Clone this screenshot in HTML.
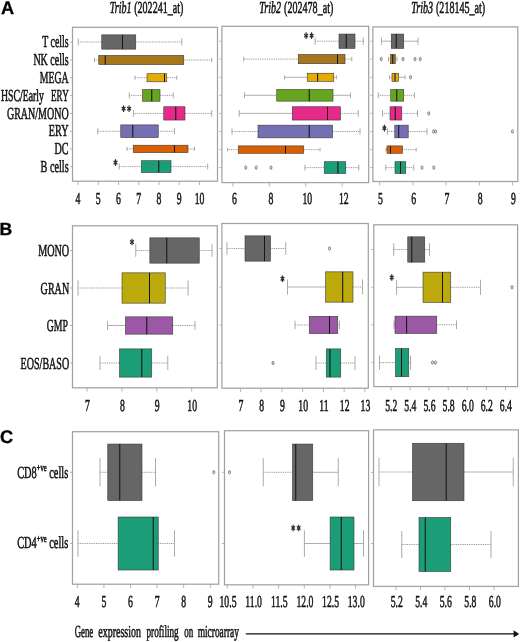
<!DOCTYPE html>
<html><head><meta charset="utf-8"><style>
html,body{margin:0;padding:0;background:#fff;}
body{width:520px;height:642px;overflow:hidden;font-family:"Liberation Serif",serif;}
svg{display:block;will-change:transform;opacity:0.999;filter:blur(0.45px);} text{text-rendering:geometricPrecision;}
</style></head><body>
<svg width="520" height="642" viewBox="0 0 520 642">
<rect width="520" height="642" fill="#fff"/>
<text x="109.7" y="13.1" font-family="Liberation Serif" font-size="16.8" font-weight="normal" text-anchor="start" fill="#111" stroke="#111" stroke-width="0.55" textLength="21.8" lengthAdjust="spacingAndGlyphs" font-style="italic">Trib1</text>
<text x="134.2" y="13.1" font-family="Liberation Serif" font-size="16.8" font-weight="normal" text-anchor="start" fill="#111" stroke="#111" stroke-width="0.55" textLength="49.2" lengthAdjust="spacingAndGlyphs">(202241_at)</text>
<text x="259.3" y="13.1" font-family="Liberation Serif" font-size="16.8" font-weight="normal" text-anchor="start" fill="#111" stroke="#111" stroke-width="0.55" textLength="21.8" lengthAdjust="spacingAndGlyphs" font-style="italic">Trib2</text>
<text x="284.1" y="13.1" font-family="Liberation Serif" font-size="16.8" font-weight="normal" text-anchor="start" fill="#111" stroke="#111" stroke-width="0.55" textLength="49.2" lengthAdjust="spacingAndGlyphs">(202478_at)</text>
<text x="411.2" y="13.1" font-family="Liberation Serif" font-size="16.8" font-weight="normal" text-anchor="start" fill="#111" stroke="#111" stroke-width="0.55" textLength="21.8" lengthAdjust="spacingAndGlyphs" font-style="italic">Trib3</text>
<text x="436.0" y="13.1" font-family="Liberation Serif" font-size="16.8" font-weight="normal" text-anchor="start" fill="#111" stroke="#111" stroke-width="0.55" textLength="49.2" lengthAdjust="spacingAndGlyphs">(218145_at)</text>
<text x="0.9" y="14" font-family="Liberation Sans" font-size="18.2" font-weight="bold" text-anchor="start" fill="#000" stroke="#000" stroke-width="0.3">A</text>
<text x="-0.4" y="235.3" font-family="Liberation Sans" font-size="17.6" font-weight="bold" text-anchor="start" fill="#000" stroke="#000" stroke-width="0.3">B</text>
<text x="0" y="443.2" font-family="Liberation Sans" font-size="18.2" font-weight="bold" text-anchor="start" fill="#000" stroke="#000" stroke-width="0.3">C</text>
<rect x="72.5" y="27.3" width="145.0" height="153.89999999999998" fill="#fff" stroke="#a2a2a2" stroke-width="1.25"/>
<rect x="221.9" y="26.3" width="146.79999999999998" height="156.29999999999998" fill="#fff" stroke="#a2a2a2" stroke-width="1.25"/>
<rect x="372.9" y="26.9" width="144.89999999999998" height="154.6" fill="#fff" stroke="#a2a2a2" stroke-width="1.25"/>
<line x1="70.0" y1="42" x2="72.5" y2="42" stroke="#a2a2a2" stroke-width="0.8"/>
<line x1="70.0" y1="60" x2="72.5" y2="60" stroke="#a2a2a2" stroke-width="0.8"/>
<line x1="70.0" y1="77.75" x2="72.5" y2="77.75" stroke="#a2a2a2" stroke-width="0.8"/>
<line x1="70.0" y1="95.4" x2="72.5" y2="95.4" stroke="#a2a2a2" stroke-width="0.8"/>
<line x1="70.0" y1="113.4" x2="72.5" y2="113.4" stroke="#a2a2a2" stroke-width="0.8"/>
<line x1="70.0" y1="131.25" x2="72.5" y2="131.25" stroke="#a2a2a2" stroke-width="0.8"/>
<line x1="70.0" y1="148.9" x2="72.5" y2="148.9" stroke="#a2a2a2" stroke-width="0.8"/>
<line x1="70.0" y1="166.6" x2="72.5" y2="166.6" stroke="#a2a2a2" stroke-width="0.8"/>
<line x1="219.4" y1="41.2" x2="221.9" y2="41.2" stroke="#a2a2a2" stroke-width="0.8"/>
<line x1="219.4" y1="59.1" x2="221.9" y2="59.1" stroke="#a2a2a2" stroke-width="0.8"/>
<line x1="219.4" y1="77.3" x2="221.9" y2="77.3" stroke="#a2a2a2" stroke-width="0.8"/>
<line x1="219.4" y1="95.3" x2="221.9" y2="95.3" stroke="#a2a2a2" stroke-width="0.8"/>
<line x1="219.4" y1="113.4" x2="221.9" y2="113.4" stroke="#a2a2a2" stroke-width="0.8"/>
<line x1="219.4" y1="131.5" x2="221.9" y2="131.5" stroke="#a2a2a2" stroke-width="0.8"/>
<line x1="219.4" y1="149.6" x2="221.9" y2="149.6" stroke="#a2a2a2" stroke-width="0.8"/>
<line x1="219.4" y1="167.6" x2="221.9" y2="167.6" stroke="#a2a2a2" stroke-width="0.8"/>
<line x1="370.4" y1="41.2" x2="372.9" y2="41.2" stroke="#a2a2a2" stroke-width="0.8"/>
<line x1="370.4" y1="59.1" x2="372.9" y2="59.1" stroke="#a2a2a2" stroke-width="0.8"/>
<line x1="370.4" y1="77.3" x2="372.9" y2="77.3" stroke="#a2a2a2" stroke-width="0.8"/>
<line x1="370.4" y1="95.3" x2="372.9" y2="95.3" stroke="#a2a2a2" stroke-width="0.8"/>
<line x1="370.4" y1="113.4" x2="372.9" y2="113.4" stroke="#a2a2a2" stroke-width="0.8"/>
<line x1="370.4" y1="131.5" x2="372.9" y2="131.5" stroke="#a2a2a2" stroke-width="0.8"/>
<line x1="370.4" y1="149.6" x2="372.9" y2="149.6" stroke="#a2a2a2" stroke-width="0.8"/>
<line x1="370.4" y1="167.6" x2="372.9" y2="167.6" stroke="#a2a2a2" stroke-width="0.8"/>
<text x="68.6" y="47.2" font-family="Liberation Serif" font-size="16.8" font-weight="normal" text-anchor="end" fill="#111" stroke="#111" stroke-width="0.55" textLength="26.4" lengthAdjust="spacingAndGlyphs">T cells</text>
<text x="68.6" y="65.2" font-family="Liberation Serif" font-size="16.8" font-weight="normal" text-anchor="end" fill="#111" stroke="#111" stroke-width="0.55" textLength="35.2" lengthAdjust="spacingAndGlyphs">NK cells</text>
<text x="68.6" y="82.95" font-family="Liberation Serif" font-size="16.8" font-weight="normal" text-anchor="end" fill="#111" stroke="#111" stroke-width="0.55" textLength="28.8" lengthAdjust="spacingAndGlyphs">MEGA</text>
<text x="68.7" y="100.60000000000001" font-family="Liberation Serif" font-size="16.8" font-weight="normal" text-anchor="end" fill="#111" stroke="#111" stroke-width="0.55" textLength="17.6" lengthAdjust="spacingAndGlyphs">ERY</text>
<text x="44.0" y="100.60000000000001" font-family="Liberation Serif" font-size="16.8" font-weight="normal" text-anchor="end" fill="#111" stroke="#111" stroke-width="0.55" textLength="43.0" lengthAdjust="spacingAndGlyphs">HSC/Early</text>
<text x="68.6" y="118.60000000000001" font-family="Liberation Serif" font-size="16.8" font-weight="normal" text-anchor="end" fill="#111" stroke="#111" stroke-width="0.55" textLength="61.6" lengthAdjust="spacingAndGlyphs">GRAN/MONO</text>
<text x="68.6" y="135.64999999999998" font-family="Liberation Serif" font-size="16.8" font-weight="normal" text-anchor="end" fill="#111" stroke="#111" stroke-width="0.55" textLength="19.8" lengthAdjust="spacingAndGlyphs">ERY</text>
<text x="68.6" y="154.1" font-family="Liberation Serif" font-size="16.8" font-weight="normal" text-anchor="end" fill="#111" stroke="#111" stroke-width="0.55" textLength="14" lengthAdjust="spacingAndGlyphs">DC</text>
<text x="68.6" y="171.79999999999998" font-family="Liberation Serif" font-size="16.8" font-weight="normal" text-anchor="end" fill="#111" stroke="#111" stroke-width="0.55" textLength="28" lengthAdjust="spacingAndGlyphs">B cells</text>
<line x1="78.25" y1="42" x2="101.75" y2="42" stroke="#808080" stroke-width="0.9" stroke-dasharray="0.9 0.9"/>
<line x1="78.25" y1="38.425" x2="78.25" y2="45.575" stroke="#a0a0a0" stroke-width="0.9"/>
<line x1="135.75" y1="42" x2="181.75" y2="42" stroke="#808080" stroke-width="0.9" stroke-dasharray="0.9 0.9"/>
<line x1="181.75" y1="38.425" x2="181.75" y2="45.575" stroke="#a0a0a0" stroke-width="0.9"/>
<rect x="101.75" y="34.85" width="34.0" height="14.3" fill="#666666" stroke="#3a3a3a" stroke-width="0.6"/>
<line x1="122.5" y1="34.85" x2="122.5" y2="49.150000000000006" stroke="#151515" stroke-width="1.05"/>
<line x1="94.5" y1="60" x2="98.75" y2="60" stroke="#808080" stroke-width="0.9" stroke-dasharray="0.9 0.9"/>
<line x1="94.5" y1="57.7" x2="94.5" y2="62.3" stroke="#a0a0a0" stroke-width="0.9"/>
<line x1="183.75" y1="60" x2="211.7" y2="60" stroke="#808080" stroke-width="0.9" stroke-dasharray="0.9 0.9"/>
<line x1="211.7" y1="57.7" x2="211.7" y2="62.3" stroke="#a0a0a0" stroke-width="0.9"/>
<rect x="98.75" y="55.4" width="85.0" height="9.2" fill="#A6761D" stroke="#3a3a3a" stroke-width="0.6"/>
<line x1="105.25" y1="55.4" x2="105.25" y2="64.6" stroke="#151515" stroke-width="1.05"/>
<line x1="135" y1="77.75" x2="147" y2="77.75" stroke="#808080" stroke-width="0.9" stroke-dasharray="0.9 0.9"/>
<line x1="135" y1="75.725" x2="135" y2="79.775" stroke="#a0a0a0" stroke-width="0.9"/>
<line x1="166.75" y1="77.75" x2="176.75" y2="77.75" stroke="#808080" stroke-width="0.9" stroke-dasharray="0.9 0.9"/>
<line x1="176.75" y1="75.725" x2="176.75" y2="79.775" stroke="#a0a0a0" stroke-width="0.9"/>
<rect x="147" y="73.7" width="19.75" height="8.1" fill="#E6AB02" stroke="#3a3a3a" stroke-width="0.6"/>
<line x1="164.5" y1="73.7" x2="164.5" y2="81.8" stroke="#151515" stroke-width="1.05"/>
<line x1="129.25" y1="95.4" x2="142.5" y2="95.4" stroke="#808080" stroke-width="0.9" stroke-dasharray="0.9 0.9"/>
<line x1="129.25" y1="92.47500000000001" x2="129.25" y2="98.325" stroke="#a0a0a0" stroke-width="0.9"/>
<line x1="160" y1="95.4" x2="173.25" y2="95.4" stroke="#808080" stroke-width="0.9" stroke-dasharray="0.9 0.9"/>
<line x1="173.25" y1="92.47500000000001" x2="173.25" y2="98.325" stroke="#a0a0a0" stroke-width="0.9"/>
<rect x="142.5" y="89.55000000000001" width="17.5" height="11.7" fill="#66A61E" stroke="#3a3a3a" stroke-width="0.6"/>
<line x1="151.75" y1="89.55000000000001" x2="151.75" y2="101.25000000000001" stroke="#151515" stroke-width="1.05"/>
<line x1="133.5" y1="113.4" x2="163.75" y2="113.4" stroke="#808080" stroke-width="0.9" stroke-dasharray="0.9 0.9"/>
<line x1="133.5" y1="110.075" x2="133.5" y2="116.72500000000001" stroke="#a0a0a0" stroke-width="0.9"/>
<line x1="185" y1="113.4" x2="211.7" y2="113.4" stroke="#808080" stroke-width="0.9" stroke-dasharray="0.9 0.9"/>
<line x1="211.7" y1="110.075" x2="211.7" y2="116.72500000000001" stroke="#a0a0a0" stroke-width="0.9"/>
<rect x="163.75" y="106.75" width="21.25" height="13.3" fill="#E7298A" stroke="#3a3a3a" stroke-width="0.6"/>
<line x1="175.75" y1="106.75" x2="175.75" y2="120.05" stroke="#151515" stroke-width="1.05"/>
<line x1="97.75" y1="131.25" x2="120.75" y2="131.25" stroke="#808080" stroke-width="0.9" stroke-dasharray="0.9 0.9"/>
<line x1="97.75" y1="128.075" x2="97.75" y2="134.425" stroke="#a0a0a0" stroke-width="0.9"/>
<line x1="158.25" y1="131.25" x2="174.5" y2="131.25" stroke="#808080" stroke-width="0.9" stroke-dasharray="0.9 0.9"/>
<line x1="174.5" y1="128.075" x2="174.5" y2="134.425" stroke="#a0a0a0" stroke-width="0.9"/>
<rect x="120.75" y="124.9" width="37.5" height="12.7" fill="#7570B3" stroke="#3a3a3a" stroke-width="0.6"/>
<line x1="132.75" y1="124.9" x2="132.75" y2="137.6" stroke="#151515" stroke-width="1.05"/>
<line x1="127" y1="148.9" x2="133.25" y2="148.9" stroke="#808080" stroke-width="0.9" stroke-dasharray="0.9 0.9"/>
<line x1="127" y1="147.05" x2="127" y2="150.75" stroke="#a0a0a0" stroke-width="0.9"/>
<line x1="188" y1="148.9" x2="194.5" y2="148.9" stroke="#808080" stroke-width="0.9" stroke-dasharray="0.9 0.9"/>
<line x1="194.5" y1="147.05" x2="194.5" y2="150.75" stroke="#a0a0a0" stroke-width="0.9"/>
<rect x="133.25" y="145.20000000000002" width="54.75" height="7.4" fill="#D95F02" stroke="#3a3a3a" stroke-width="0.6"/>
<line x1="174.5" y1="145.20000000000002" x2="174.5" y2="152.60000000000002" stroke="#151515" stroke-width="1.05"/>
<line x1="119.25" y1="166.6" x2="141.25" y2="166.6" stroke="#808080" stroke-width="0.9" stroke-dasharray="0.9 0.9"/>
<line x1="119.25" y1="163.65" x2="119.25" y2="169.54999999999998" stroke="#a0a0a0" stroke-width="0.9"/>
<line x1="171" y1="166.6" x2="207.7" y2="166.6" stroke="#808080" stroke-width="0.9" stroke-dasharray="0.9 0.9"/>
<line x1="207.7" y1="163.65" x2="207.7" y2="169.54999999999998" stroke="#a0a0a0" stroke-width="0.9"/>
<rect x="141.25" y="160.7" width="29.75" height="11.8" fill="#1B9E77" stroke="#3a3a3a" stroke-width="0.6"/>
<line x1="158.75" y1="160.7" x2="158.75" y2="172.5" stroke="#151515" stroke-width="1.05"/>
<path d="M123.6 105.4 V112.0" stroke="#2e2e2e" stroke-width="1.15" fill="none"/>
<path d="M121.75 107.05 L125.44999999999999 110.35000000000001 M121.75 110.35000000000001 L125.44999999999999 107.05" stroke="#2e2e2e" stroke-width="1.3" fill="none"/>
<path d="M129.1 105.4 V112.0" stroke="#2e2e2e" stroke-width="1.15" fill="none"/>
<path d="M127.25 107.05 L130.95 110.35000000000001 M127.25 110.35000000000001 L130.95 107.05" stroke="#2e2e2e" stroke-width="1.3" fill="none"/>
<path d="M115.5 159.2 V165.8" stroke="#2e2e2e" stroke-width="1.15" fill="none"/>
<path d="M113.65 160.85 L117.35 164.15 M113.65 164.15 L117.35 160.85" stroke="#2e2e2e" stroke-width="1.3" fill="none"/>
<line x1="315.1" y1="41.2" x2="339" y2="41.2" stroke="#808080" stroke-width="0.9" stroke-dasharray="0.9 0.9"/>
<line x1="315.1" y1="37.625" x2="315.1" y2="44.775000000000006" stroke="#a0a0a0" stroke-width="0.9"/>
<line x1="355" y1="41.2" x2="363.25" y2="41.2" stroke="#808080" stroke-width="0.9" stroke-dasharray="0.9 0.9"/>
<line x1="363.25" y1="37.625" x2="363.25" y2="44.775000000000006" stroke="#a0a0a0" stroke-width="0.9"/>
<rect x="339" y="34.050000000000004" width="16" height="14.3" fill="#666666" stroke="#3a3a3a" stroke-width="0.6"/>
<line x1="346.25" y1="34.050000000000004" x2="346.25" y2="48.35000000000001" stroke="#151515" stroke-width="1.05"/>
<line x1="243.75" y1="59.1" x2="298.25" y2="59.1" stroke="#808080" stroke-width="0.9" stroke-dasharray="0.9 0.9"/>
<line x1="243.75" y1="56.800000000000004" x2="243.75" y2="61.4" stroke="#a0a0a0" stroke-width="0.9"/>
<line x1="345" y1="59.1" x2="351.75" y2="59.1" stroke="#808080" stroke-width="0.9" stroke-dasharray="0.9 0.9"/>
<line x1="351.75" y1="56.800000000000004" x2="351.75" y2="61.4" stroke="#a0a0a0" stroke-width="0.9"/>
<rect x="298.25" y="54.5" width="46.75" height="9.2" fill="#A6761D" stroke="#3a3a3a" stroke-width="0.6"/>
<line x1="337.5" y1="54.5" x2="337.5" y2="63.7" stroke="#151515" stroke-width="1.05"/>
<line x1="284.5" y1="77.3" x2="307.25" y2="77.3" stroke="#8e8e8e" stroke-width="0.7"/>
<line x1="284.5" y1="75.27499999999999" x2="284.5" y2="79.325" stroke="#a0a0a0" stroke-width="0.9"/>
<line x1="333.75" y1="77.3" x2="336.4" y2="77.3" stroke="#808080" stroke-width="0.9" stroke-dasharray="0.9 0.9"/>
<line x1="336.4" y1="75.27499999999999" x2="336.4" y2="79.325" stroke="#a0a0a0" stroke-width="0.9"/>
<rect x="307.25" y="73.25" width="26.5" height="8.1" fill="#E6AB02" stroke="#3a3a3a" stroke-width="0.6"/>
<line x1="317.6" y1="73.25" x2="317.6" y2="81.35" stroke="#151515" stroke-width="1.05"/>
<line x1="244.5" y1="95.3" x2="276.75" y2="95.3" stroke="#8e8e8e" stroke-width="0.7"/>
<line x1="244.5" y1="92.375" x2="244.5" y2="98.225" stroke="#a0a0a0" stroke-width="0.9"/>
<line x1="333" y1="95.3" x2="350.5" y2="95.3" stroke="#8e8e8e" stroke-width="0.7"/>
<line x1="350.5" y1="92.375" x2="350.5" y2="98.225" stroke="#a0a0a0" stroke-width="0.9"/>
<rect x="276.75" y="89.45" width="56.25" height="11.7" fill="#66A61E" stroke="#3a3a3a" stroke-width="0.6"/>
<line x1="309.25" y1="89.45" x2="309.25" y2="101.15" stroke="#151515" stroke-width="1.05"/>
<line x1="239.25" y1="113.4" x2="292.25" y2="113.4" stroke="#8e8e8e" stroke-width="0.7"/>
<line x1="239.25" y1="110.075" x2="239.25" y2="116.72500000000001" stroke="#a0a0a0" stroke-width="0.9"/>
<line x1="340.5" y1="113.4" x2="358.25" y2="113.4" stroke="#808080" stroke-width="0.9" stroke-dasharray="0.9 0.9"/>
<line x1="358.25" y1="110.075" x2="358.25" y2="116.72500000000001" stroke="#a0a0a0" stroke-width="0.9"/>
<rect x="292.25" y="106.75" width="48.25" height="13.3" fill="#E7298A" stroke="#3a3a3a" stroke-width="0.6"/>
<line x1="327.5" y1="106.75" x2="327.5" y2="120.05" stroke="#151515" stroke-width="1.05"/>
<line x1="232" y1="131.5" x2="258" y2="131.5" stroke="#808080" stroke-width="0.9" stroke-dasharray="0.9 0.9"/>
<line x1="232" y1="128.325" x2="232" y2="134.675" stroke="#a0a0a0" stroke-width="0.9"/>
<line x1="332.6" y1="131.5" x2="360" y2="131.5" stroke="#808080" stroke-width="0.9" stroke-dasharray="0.9 0.9"/>
<line x1="360" y1="128.325" x2="360" y2="134.675" stroke="#a0a0a0" stroke-width="0.9"/>
<rect x="258" y="125.15" width="74.60000000000002" height="12.7" fill="#7570B3" stroke="#3a3a3a" stroke-width="0.6"/>
<line x1="309.25" y1="125.15" x2="309.25" y2="137.85" stroke="#151515" stroke-width="1.05"/>
<line x1="227.5" y1="149.6" x2="238.25" y2="149.6" stroke="#808080" stroke-width="0.9" stroke-dasharray="0.9 0.9"/>
<line x1="227.5" y1="147.75" x2="227.5" y2="151.45" stroke="#a0a0a0" stroke-width="0.9"/>
<line x1="303.75" y1="149.6" x2="320" y2="149.6" stroke="#808080" stroke-width="0.9" stroke-dasharray="0.9 0.9"/>
<line x1="320" y1="147.75" x2="320" y2="151.45" stroke="#a0a0a0" stroke-width="0.9"/>
<rect x="238.25" y="145.9" width="65.5" height="7.4" fill="#D95F02" stroke="#3a3a3a" stroke-width="0.6"/>
<line x1="285.5" y1="145.9" x2="285.5" y2="153.3" stroke="#151515" stroke-width="1.05"/>
<line x1="305" y1="167.6" x2="324.25" y2="167.6" stroke="#808080" stroke-width="0.9" stroke-dasharray="0.9 0.9"/>
<line x1="305" y1="164.65" x2="305" y2="170.54999999999998" stroke="#a0a0a0" stroke-width="0.9"/>
<line x1="345.75" y1="167.6" x2="358.75" y2="167.6" stroke="#808080" stroke-width="0.9" stroke-dasharray="0.9 0.9"/>
<line x1="358.75" y1="164.65" x2="358.75" y2="170.54999999999998" stroke="#a0a0a0" stroke-width="0.9"/>
<rect x="324.25" y="161.7" width="21.5" height="11.8" fill="#1B9E77" stroke="#3a3a3a" stroke-width="0.6"/>
<line x1="337.9" y1="161.7" x2="337.9" y2="173.5" stroke="#151515" stroke-width="1.05"/>
<ellipse cx="245.75" cy="167.6" rx="1.0" ry="1.7" fill="#e8e8e8" stroke="#666" stroke-width="0.8"/>
<ellipse cx="256.25" cy="167.6" rx="1.0" ry="1.7" fill="#e8e8e8" stroke="#666" stroke-width="0.8"/>
<ellipse cx="271" cy="167.6" rx="1.0" ry="1.7" fill="#e8e8e8" stroke="#666" stroke-width="0.8"/>
<path d="M306.1 32.300000000000004 V38.9" stroke="#2e2e2e" stroke-width="1.15" fill="none"/>
<path d="M304.25 33.95 L307.95000000000005 37.25 M304.25 37.25 L307.95000000000005 33.95" stroke="#2e2e2e" stroke-width="1.3" fill="none"/>
<path d="M311.6 32.300000000000004 V38.9" stroke="#2e2e2e" stroke-width="1.15" fill="none"/>
<path d="M309.75 33.95 L313.45000000000005 37.25 M309.75 37.25 L313.45000000000005 33.95" stroke="#2e2e2e" stroke-width="1.3" fill="none"/>
<line x1="381.5" y1="41.2" x2="391.25" y2="41.2" stroke="#8e8e8e" stroke-width="0.7"/>
<line x1="381.5" y1="37.625" x2="381.5" y2="44.775000000000006" stroke="#a0a0a0" stroke-width="0.9"/>
<line x1="403.75" y1="41.2" x2="418" y2="41.2" stroke="#8e8e8e" stroke-width="0.7"/>
<line x1="418" y1="37.625" x2="418" y2="44.775000000000006" stroke="#a0a0a0" stroke-width="0.9"/>
<rect x="391.25" y="34.050000000000004" width="12.5" height="14.3" fill="#666666" stroke="#3a3a3a" stroke-width="0.6"/>
<line x1="396.25" y1="34.050000000000004" x2="396.25" y2="48.35000000000001" stroke="#151515" stroke-width="1.05"/>
<line x1="388.5" y1="59.1" x2="390.5" y2="59.1" stroke="#808080" stroke-width="0.9" stroke-dasharray="0.9 0.9"/>
<line x1="388.5" y1="56.800000000000004" x2="388.5" y2="61.4" stroke="#a0a0a0" stroke-width="0.9"/>
<line x1="395.25" y1="59.1" x2="397" y2="59.1" stroke="#808080" stroke-width="0.9" stroke-dasharray="0.9 0.9"/>
<line x1="397" y1="56.800000000000004" x2="397" y2="61.4" stroke="#a0a0a0" stroke-width="0.9"/>
<rect x="390.5" y="54.5" width="4.75" height="9.2" fill="#A6761D" stroke="#3a3a3a" stroke-width="0.6"/>
<line x1="392.75" y1="54.5" x2="392.75" y2="63.7" stroke="#151515" stroke-width="1.05"/>
<ellipse cx="381.25" cy="59.1" rx="1.0" ry="1.7" fill="#e8e8e8" stroke="#666" stroke-width="0.8"/>
<ellipse cx="403" cy="59.1" rx="1.0" ry="1.7" fill="#e8e8e8" stroke="#666" stroke-width="0.8"/>
<ellipse cx="415" cy="59.1" rx="1.0" ry="1.7" fill="#e8e8e8" stroke="#666" stroke-width="0.8"/>
<ellipse cx="420.25" cy="59.1" rx="1.0" ry="1.7" fill="#e8e8e8" stroke="#666" stroke-width="0.8"/>
<line x1="389.5" y1="77.3" x2="392" y2="77.3" stroke="#808080" stroke-width="0.9" stroke-dasharray="0.9 0.9"/>
<line x1="389.5" y1="75.27499999999999" x2="389.5" y2="79.325" stroke="#a0a0a0" stroke-width="0.9"/>
<line x1="398.5" y1="77.3" x2="405" y2="77.3" stroke="#8e8e8e" stroke-width="0.7"/>
<line x1="405" y1="75.27499999999999" x2="405" y2="79.325" stroke="#a0a0a0" stroke-width="0.9"/>
<rect x="392" y="73.25" width="6.5" height="8.1" fill="#E6AB02" stroke="#3a3a3a" stroke-width="0.6"/>
<line x1="395" y1="73.25" x2="395" y2="81.35" stroke="#151515" stroke-width="1.05"/>
<ellipse cx="410.5" cy="77.3" rx="1.0" ry="1.7" fill="#e8e8e8" stroke="#666" stroke-width="0.8"/>
<line x1="378.25" y1="95.3" x2="390.75" y2="95.3" stroke="#808080" stroke-width="0.9" stroke-dasharray="0.9 0.9"/>
<line x1="378.25" y1="92.375" x2="378.25" y2="98.225" stroke="#a0a0a0" stroke-width="0.9"/>
<line x1="403.75" y1="95.3" x2="414.5" y2="95.3" stroke="#808080" stroke-width="0.9" stroke-dasharray="0.9 0.9"/>
<line x1="414.5" y1="92.375" x2="414.5" y2="98.225" stroke="#a0a0a0" stroke-width="0.9"/>
<rect x="390.75" y="89.45" width="13.0" height="11.7" fill="#66A61E" stroke="#3a3a3a" stroke-width="0.6"/>
<line x1="396.75" y1="89.45" x2="396.75" y2="101.15" stroke="#151515" stroke-width="1.05"/>
<line x1="382.5" y1="113.4" x2="390" y2="113.4" stroke="#808080" stroke-width="0.9" stroke-dasharray="0.9 0.9"/>
<line x1="382.5" y1="110.075" x2="382.5" y2="116.72500000000001" stroke="#a0a0a0" stroke-width="0.9"/>
<line x1="401.75" y1="113.4" x2="417.5" y2="113.4" stroke="#808080" stroke-width="0.9" stroke-dasharray="0.9 0.9"/>
<line x1="417.5" y1="110.075" x2="417.5" y2="116.72500000000001" stroke="#a0a0a0" stroke-width="0.9"/>
<rect x="390" y="106.75" width="11.75" height="13.3" fill="#E7298A" stroke="#3a3a3a" stroke-width="0.6"/>
<line x1="395.25" y1="106.75" x2="395.25" y2="120.05" stroke="#151515" stroke-width="1.05"/>
<ellipse cx="428.75" cy="113.4" rx="1.0" ry="1.7" fill="#e8e8e8" stroke="#666" stroke-width="0.8"/>
<line x1="387.5" y1="131.5" x2="394.8" y2="131.5" stroke="#808080" stroke-width="0.9" stroke-dasharray="0.9 0.9"/>
<line x1="387.5" y1="128.325" x2="387.5" y2="134.675" stroke="#a0a0a0" stroke-width="0.9"/>
<line x1="408.2" y1="131.5" x2="427" y2="131.5" stroke="#808080" stroke-width="0.9" stroke-dasharray="0.9 0.9"/>
<line x1="427" y1="128.325" x2="427" y2="134.675" stroke="#a0a0a0" stroke-width="0.9"/>
<rect x="394.8" y="125.15" width="13.399999999999977" height="12.7" fill="#7570B3" stroke="#3a3a3a" stroke-width="0.6"/>
<line x1="398.7" y1="125.15" x2="398.7" y2="137.85" stroke="#151515" stroke-width="1.05"/>
<ellipse cx="433.6" cy="131.5" rx="1.0" ry="1.7" fill="#e8e8e8" stroke="#666" stroke-width="0.8"/>
<ellipse cx="435.6" cy="131.5" rx="1.0" ry="1.7" fill="#e8e8e8" stroke="#666" stroke-width="0.8"/>
<ellipse cx="512.5" cy="131.5" rx="1.0" ry="1.7" fill="#e8e8e8" stroke="#666" stroke-width="0.8"/>
<line x1="386" y1="149.6" x2="387" y2="149.6" stroke="#808080" stroke-width="0.9" stroke-dasharray="0.9 0.9"/>
<line x1="386" y1="147.75" x2="386" y2="151.45" stroke="#a0a0a0" stroke-width="0.9"/>
<line x1="402.5" y1="149.6" x2="416.25" y2="149.6" stroke="#808080" stroke-width="0.9" stroke-dasharray="0.9 0.9"/>
<line x1="416.25" y1="147.75" x2="416.25" y2="151.45" stroke="#a0a0a0" stroke-width="0.9"/>
<rect x="387" y="145.9" width="15.5" height="7.4" fill="#D95F02" stroke="#3a3a3a" stroke-width="0.6"/>
<line x1="390.5" y1="145.9" x2="390.5" y2="153.3" stroke="#151515" stroke-width="1.05"/>
<line x1="385.75" y1="167.6" x2="395" y2="167.6" stroke="#808080" stroke-width="0.9" stroke-dasharray="0.9 0.9"/>
<line x1="385.75" y1="164.65" x2="385.75" y2="170.54999999999998" stroke="#a0a0a0" stroke-width="0.9"/>
<line x1="405.75" y1="167.6" x2="413.75" y2="167.6" stroke="#808080" stroke-width="0.9" stroke-dasharray="0.9 0.9"/>
<line x1="413.75" y1="164.65" x2="413.75" y2="170.54999999999998" stroke="#a0a0a0" stroke-width="0.9"/>
<rect x="395" y="161.7" width="10.75" height="11.8" fill="#1B9E77" stroke="#3a3a3a" stroke-width="0.6"/>
<line x1="400.5" y1="161.7" x2="400.5" y2="173.5" stroke="#151515" stroke-width="1.05"/>
<ellipse cx="422" cy="167.6" rx="1.0" ry="1.7" fill="#e8e8e8" stroke="#666" stroke-width="0.8"/>
<ellipse cx="433.75" cy="167.6" rx="1.0" ry="1.7" fill="#e8e8e8" stroke="#666" stroke-width="0.8"/>
<path d="M384.4 124.8 V131.4" stroke="#2e2e2e" stroke-width="1.15" fill="none"/>
<path d="M382.54999999999995 126.44999999999999 L386.25 129.75 M382.54999999999995 129.75 L386.25 126.44999999999999" stroke="#2e2e2e" stroke-width="1.3" fill="none"/>
<line x1="78.0" y1="181.2" x2="78.0" y2="185.0" stroke="#a2a2a2" stroke-width="0.8"/>
<line x1="98.25" y1="181.2" x2="98.25" y2="185.0" stroke="#a2a2a2" stroke-width="0.8"/>
<line x1="118.5" y1="181.2" x2="118.5" y2="185.0" stroke="#a2a2a2" stroke-width="0.8"/>
<line x1="138.75" y1="181.2" x2="138.75" y2="185.0" stroke="#a2a2a2" stroke-width="0.8"/>
<line x1="159.0" y1="181.2" x2="159.0" y2="185.0" stroke="#a2a2a2" stroke-width="0.8"/>
<line x1="179.25" y1="181.2" x2="179.25" y2="185.0" stroke="#a2a2a2" stroke-width="0.8"/>
<line x1="199.5" y1="181.2" x2="199.5" y2="185.0" stroke="#a2a2a2" stroke-width="0.8"/>
<text x="78.0" y="203.75" font-family="Liberation Serif" font-size="16.8" font-weight="normal" text-anchor="middle" fill="#111" stroke="#111" stroke-width="0.55" textLength="4.86" lengthAdjust="spacingAndGlyphs">4</text>
<text x="98.25" y="203.75" font-family="Liberation Serif" font-size="16.8" font-weight="normal" text-anchor="middle" fill="#111" stroke="#111" stroke-width="0.55" textLength="4.86" lengthAdjust="spacingAndGlyphs">5</text>
<text x="118.5" y="203.75" font-family="Liberation Serif" font-size="16.8" font-weight="normal" text-anchor="middle" fill="#111" stroke="#111" stroke-width="0.55" textLength="4.86" lengthAdjust="spacingAndGlyphs">6</text>
<text x="138.75" y="203.75" font-family="Liberation Serif" font-size="16.8" font-weight="normal" text-anchor="middle" fill="#111" stroke="#111" stroke-width="0.55" textLength="4.86" lengthAdjust="spacingAndGlyphs">7</text>
<text x="159.0" y="203.75" font-family="Liberation Serif" font-size="16.8" font-weight="normal" text-anchor="middle" fill="#111" stroke="#111" stroke-width="0.55" textLength="4.86" lengthAdjust="spacingAndGlyphs">8</text>
<text x="179.25" y="203.75" font-family="Liberation Serif" font-size="16.8" font-weight="normal" text-anchor="middle" fill="#111" stroke="#111" stroke-width="0.55" textLength="4.86" lengthAdjust="spacingAndGlyphs">9</text>
<text x="199.5" y="203.75" font-family="Liberation Serif" font-size="16.8" font-weight="normal" text-anchor="middle" fill="#111" stroke="#111" stroke-width="0.55" textLength="9.71" lengthAdjust="spacingAndGlyphs">10</text>
<line x1="232.8" y1="182.6" x2="232.8" y2="186.4" stroke="#a2a2a2" stroke-width="0.8"/>
<line x1="269.25" y1="182.6" x2="269.25" y2="186.4" stroke="#a2a2a2" stroke-width="0.8"/>
<line x1="305.70000000000005" y1="182.6" x2="305.70000000000005" y2="186.4" stroke="#a2a2a2" stroke-width="0.8"/>
<line x1="342.15000000000003" y1="182.6" x2="342.15000000000003" y2="186.4" stroke="#a2a2a2" stroke-width="0.8"/>
<text x="234.4" y="203.75" font-family="Liberation Serif" font-size="16.8" font-weight="normal" text-anchor="middle" fill="#111" stroke="#111" stroke-width="0.55" textLength="4.86" lengthAdjust="spacingAndGlyphs">6</text>
<text x="270.85" y="203.75" font-family="Liberation Serif" font-size="16.8" font-weight="normal" text-anchor="middle" fill="#111" stroke="#111" stroke-width="0.55" textLength="4.86" lengthAdjust="spacingAndGlyphs">8</text>
<text x="307.3" y="203.75" font-family="Liberation Serif" font-size="16.8" font-weight="normal" text-anchor="middle" fill="#111" stroke="#111" stroke-width="0.55" textLength="9.71" lengthAdjust="spacingAndGlyphs">10</text>
<text x="343.75" y="203.75" font-family="Liberation Serif" font-size="16.8" font-weight="normal" text-anchor="middle" fill="#111" stroke="#111" stroke-width="0.55" textLength="9.71" lengthAdjust="spacingAndGlyphs">12</text>
<line x1="379.6" y1="181.5" x2="379.6" y2="185.3" stroke="#a2a2a2" stroke-width="0.8"/>
<line x1="412.85" y1="181.5" x2="412.85" y2="185.3" stroke="#a2a2a2" stroke-width="0.8"/>
<line x1="446.1" y1="181.5" x2="446.1" y2="185.3" stroke="#a2a2a2" stroke-width="0.8"/>
<line x1="479.35" y1="181.5" x2="479.35" y2="185.3" stroke="#a2a2a2" stroke-width="0.8"/>
<line x1="512.6" y1="181.5" x2="512.6" y2="185.3" stroke="#a2a2a2" stroke-width="0.8"/>
<text x="380.5" y="203.75" font-family="Liberation Serif" font-size="16.8" font-weight="normal" text-anchor="middle" fill="#111" stroke="#111" stroke-width="0.55" textLength="4.86" lengthAdjust="spacingAndGlyphs">5</text>
<text x="413.75" y="203.75" font-family="Liberation Serif" font-size="16.8" font-weight="normal" text-anchor="middle" fill="#111" stroke="#111" stroke-width="0.55" textLength="4.86" lengthAdjust="spacingAndGlyphs">6</text>
<text x="447.0" y="203.75" font-family="Liberation Serif" font-size="16.8" font-weight="normal" text-anchor="middle" fill="#111" stroke="#111" stroke-width="0.55" textLength="4.86" lengthAdjust="spacingAndGlyphs">7</text>
<text x="480.25" y="203.75" font-family="Liberation Serif" font-size="16.8" font-weight="normal" text-anchor="middle" fill="#111" stroke="#111" stroke-width="0.55" textLength="4.86" lengthAdjust="spacingAndGlyphs">8</text>
<text x="513.5" y="203.75" font-family="Liberation Serif" font-size="16.8" font-weight="normal" text-anchor="middle" fill="#111" stroke="#111" stroke-width="0.55" textLength="4.86" lengthAdjust="spacingAndGlyphs">9</text>
<rect x="72.5" y="225.8" width="144.8" height="162.0" fill="#fff" stroke="#a2a2a2" stroke-width="1.25"/>
<rect x="221.9" y="223.5" width="146.4" height="164.7" fill="#fff" stroke="#a2a2a2" stroke-width="1.25"/>
<rect x="373.8" y="224.8" width="143.8" height="161.8" fill="#fff" stroke="#a2a2a2" stroke-width="1.25"/>
<line x1="70.0" y1="250.5" x2="72.5" y2="250.5" stroke="#a2a2a2" stroke-width="0.8"/>
<line x1="70.0" y1="288" x2="72.5" y2="288" stroke="#a2a2a2" stroke-width="0.8"/>
<line x1="70.0" y1="325.5" x2="72.5" y2="325.5" stroke="#a2a2a2" stroke-width="0.8"/>
<line x1="70.0" y1="363" x2="72.5" y2="363" stroke="#a2a2a2" stroke-width="0.8"/>
<line x1="219.4" y1="248.5" x2="221.9" y2="248.5" stroke="#a2a2a2" stroke-width="0.8"/>
<line x1="219.4" y1="287" x2="221.9" y2="287" stroke="#a2a2a2" stroke-width="0.8"/>
<line x1="219.4" y1="325" x2="221.9" y2="325" stroke="#a2a2a2" stroke-width="0.8"/>
<line x1="219.4" y1="363" x2="221.9" y2="363" stroke="#a2a2a2" stroke-width="0.8"/>
<line x1="371.3" y1="249.5" x2="373.8" y2="249.5" stroke="#a2a2a2" stroke-width="0.8"/>
<line x1="371.3" y1="287.3" x2="373.8" y2="287.3" stroke="#a2a2a2" stroke-width="0.8"/>
<line x1="371.3" y1="324.8" x2="373.8" y2="324.8" stroke="#a2a2a2" stroke-width="0.8"/>
<line x1="371.3" y1="362.6" x2="373.8" y2="362.6" stroke="#a2a2a2" stroke-width="0.8"/>
<text x="69.2" y="256.4" font-family="Liberation Serif" font-size="16.8" font-weight="normal" text-anchor="end" fill="#111" stroke="#111" stroke-width="0.55" textLength="31" lengthAdjust="spacingAndGlyphs">MONO</text>
<text x="69.2" y="293.9" font-family="Liberation Serif" font-size="16.8" font-weight="normal" text-anchor="end" fill="#111" stroke="#111" stroke-width="0.55" textLength="28.6" lengthAdjust="spacingAndGlyphs">GRAN</text>
<text x="67.9" y="331.4" font-family="Liberation Serif" font-size="16.8" font-weight="normal" text-anchor="end" fill="#111" stroke="#111" stroke-width="0.55" textLength="21.2" lengthAdjust="spacingAndGlyphs">GMP</text>
<text x="69.2" y="368.9" font-family="Liberation Serif" font-size="16.8" font-weight="normal" text-anchor="end" fill="#111" stroke="#111" stroke-width="0.55" textLength="48.6" lengthAdjust="spacingAndGlyphs">EOS/BASO</text>
<line x1="135.75" y1="250.5" x2="149.85" y2="250.5" stroke="#808080" stroke-width="0.9" stroke-dasharray="0.9 0.9"/>
<line x1="135.75" y1="244.175" x2="135.75" y2="256.825" stroke="#a0a0a0" stroke-width="0.9"/>
<line x1="199.25" y1="250.5" x2="212" y2="250.5" stroke="#808080" stroke-width="0.9" stroke-dasharray="0.9 0.9"/>
<line x1="212" y1="244.175" x2="212" y2="256.825" stroke="#a0a0a0" stroke-width="0.9"/>
<rect x="149.85" y="237.85" width="49.400000000000006" height="25.3" fill="#666666" stroke="#3a3a3a" stroke-width="0.6"/>
<line x1="166.75" y1="237.85" x2="166.75" y2="263.15" stroke="#151515" stroke-width="1.05"/>
<line x1="78" y1="288" x2="122" y2="288" stroke="#808080" stroke-width="0.9" stroke-dasharray="0.9 0.9"/>
<line x1="78" y1="280.425" x2="78" y2="295.575" stroke="#a0a0a0" stroke-width="0.9"/>
<line x1="165.25" y1="288" x2="188.1" y2="288" stroke="#808080" stroke-width="0.9" stroke-dasharray="0.9 0.9"/>
<line x1="188.1" y1="280.425" x2="188.1" y2="295.575" stroke="#a0a0a0" stroke-width="0.9"/>
<rect x="122" y="272.85" width="43.25" height="30.3" fill="#BCA90B" stroke="#3a3a3a" stroke-width="0.6"/>
<line x1="149.5" y1="272.85" x2="149.5" y2="303.15000000000003" stroke="#151515" stroke-width="1.05"/>
<line x1="107.5" y1="325.5" x2="125.5" y2="325.5" stroke="#8e8e8e" stroke-width="0.7"/>
<line x1="107.5" y1="321.175" x2="107.5" y2="329.825" stroke="#a0a0a0" stroke-width="0.9"/>
<line x1="172.75" y1="325.5" x2="195" y2="325.5" stroke="#808080" stroke-width="0.9" stroke-dasharray="0.9 0.9"/>
<line x1="195" y1="321.175" x2="195" y2="329.825" stroke="#a0a0a0" stroke-width="0.9"/>
<rect x="125.5" y="316.85" width="47.25" height="17.3" fill="#9B58A5" stroke="#3a3a3a" stroke-width="0.6"/>
<line x1="146.75" y1="316.85" x2="146.75" y2="334.15000000000003" stroke="#151515" stroke-width="1.05"/>
<line x1="100" y1="363" x2="119.5" y2="363" stroke="#808080" stroke-width="0.9" stroke-dasharray="0.9 0.9"/>
<line x1="100" y1="355.95" x2="100" y2="370.05" stroke="#a0a0a0" stroke-width="0.9"/>
<line x1="151.75" y1="363" x2="167.75" y2="363" stroke="#808080" stroke-width="0.9" stroke-dasharray="0.9 0.9"/>
<line x1="167.75" y1="355.95" x2="167.75" y2="370.05" stroke="#a0a0a0" stroke-width="0.9"/>
<rect x="119.5" y="348.9" width="32.25" height="28.2" fill="#1B9E77" stroke="#3a3a3a" stroke-width="0.6"/>
<line x1="141.75" y1="348.9" x2="141.75" y2="377.09999999999997" stroke="#151515" stroke-width="1.05"/>
<path d="M132.0 238.7 V245.3" stroke="#2e2e2e" stroke-width="1.15" fill="none"/>
<path d="M130.15 240.35 L133.85 243.65 M130.15 243.65 L133.85 240.35" stroke="#2e2e2e" stroke-width="1.3" fill="none"/>
<line x1="227" y1="248.5" x2="245" y2="248.5" stroke="#808080" stroke-width="0.9" stroke-dasharray="0.9 0.9"/>
<line x1="227" y1="242.175" x2="227" y2="254.825" stroke="#a0a0a0" stroke-width="0.9"/>
<line x1="270.5" y1="248.5" x2="285.75" y2="248.5" stroke="#808080" stroke-width="0.9" stroke-dasharray="0.9 0.9"/>
<line x1="285.75" y1="242.175" x2="285.75" y2="254.825" stroke="#a0a0a0" stroke-width="0.9"/>
<rect x="245" y="235.85" width="25.5" height="25.3" fill="#666666" stroke="#3a3a3a" stroke-width="0.6"/>
<line x1="264.5" y1="235.85" x2="264.5" y2="261.15" stroke="#151515" stroke-width="1.05"/>
<ellipse cx="329.5" cy="248.5" rx="1.0" ry="1.7" fill="#e8e8e8" stroke="#666" stroke-width="0.8"/>
<line x1="287.5" y1="287" x2="325.6" y2="287" stroke="#8e8e8e" stroke-width="0.7"/>
<line x1="287.5" y1="279.425" x2="287.5" y2="294.575" stroke="#a0a0a0" stroke-width="0.9"/>
<line x1="353" y1="287" x2="362.5" y2="287" stroke="#808080" stroke-width="0.9" stroke-dasharray="0.9 0.9"/>
<line x1="362.5" y1="279.425" x2="362.5" y2="294.575" stroke="#a0a0a0" stroke-width="0.9"/>
<rect x="325.6" y="271.85" width="27.399999999999977" height="30.3" fill="#BCA90B" stroke="#3a3a3a" stroke-width="0.6"/>
<line x1="342.7" y1="271.85" x2="342.7" y2="302.15000000000003" stroke="#151515" stroke-width="1.05"/>
<line x1="295" y1="325" x2="309.25" y2="325" stroke="#808080" stroke-width="0.9" stroke-dasharray="0.9 0.9"/>
<line x1="295" y1="320.675" x2="295" y2="329.325" stroke="#a0a0a0" stroke-width="0.9"/>
<line x1="337.75" y1="325" x2="339.5" y2="325" stroke="#808080" stroke-width="0.9" stroke-dasharray="0.9 0.9"/>
<line x1="339.5" y1="320.675" x2="339.5" y2="329.325" stroke="#a0a0a0" stroke-width="0.9"/>
<rect x="309.25" y="316.35" width="28.5" height="17.3" fill="#9B58A5" stroke="#3a3a3a" stroke-width="0.6"/>
<line x1="329.5" y1="316.35" x2="329.5" y2="333.65000000000003" stroke="#151515" stroke-width="1.05"/>
<line x1="316" y1="363" x2="326.25" y2="363" stroke="#808080" stroke-width="0.9" stroke-dasharray="0.9 0.9"/>
<line x1="316" y1="355.95" x2="316" y2="370.05" stroke="#a0a0a0" stroke-width="0.9"/>
<line x1="340.75" y1="363" x2="355" y2="363" stroke="#808080" stroke-width="0.9" stroke-dasharray="0.9 0.9"/>
<line x1="355" y1="355.95" x2="355" y2="370.05" stroke="#a0a0a0" stroke-width="0.9"/>
<rect x="326.25" y="348.9" width="14.5" height="28.2" fill="#1B9E77" stroke="#3a3a3a" stroke-width="0.6"/>
<line x1="330" y1="348.9" x2="330" y2="377.09999999999997" stroke="#151515" stroke-width="1.05"/>
<ellipse cx="273" cy="363" rx="1.0" ry="1.7" fill="#e8e8e8" stroke="#666" stroke-width="0.8"/>
<path d="M282.5 275.45 V282.05" stroke="#2e2e2e" stroke-width="1.15" fill="none"/>
<path d="M280.65 277.1 L284.35 280.4 M280.65 280.4 L284.35 277.1" stroke="#2e2e2e" stroke-width="1.3" fill="none"/>
<line x1="393.75" y1="249.5" x2="407.75" y2="249.5" stroke="#808080" stroke-width="0.9" stroke-dasharray="0.9 0.9"/>
<line x1="393.75" y1="243.175" x2="393.75" y2="255.825" stroke="#a0a0a0" stroke-width="0.9"/>
<line x1="424.75" y1="249.5" x2="429.5" y2="249.5" stroke="#808080" stroke-width="0.9" stroke-dasharray="0.9 0.9"/>
<line x1="429.5" y1="243.175" x2="429.5" y2="255.825" stroke="#a0a0a0" stroke-width="0.9"/>
<rect x="407.75" y="236.85" width="17.0" height="25.3" fill="#666666" stroke="#3a3a3a" stroke-width="0.6"/>
<line x1="411.75" y1="236.85" x2="411.75" y2="262.15" stroke="#151515" stroke-width="1.05"/>
<line x1="396.6" y1="287.3" x2="423" y2="287.3" stroke="#8e8e8e" stroke-width="0.7"/>
<line x1="396.6" y1="279.725" x2="396.6" y2="294.875" stroke="#a0a0a0" stroke-width="0.9"/>
<line x1="450.75" y1="287.3" x2="480.5" y2="287.3" stroke="#808080" stroke-width="0.9" stroke-dasharray="0.9 0.9"/>
<line x1="480.5" y1="279.725" x2="480.5" y2="294.875" stroke="#a0a0a0" stroke-width="0.9"/>
<rect x="423" y="272.15000000000003" width="27.75" height="30.3" fill="#BCA90B" stroke="#3a3a3a" stroke-width="0.6"/>
<line x1="442.5" y1="272.15000000000003" x2="442.5" y2="302.45000000000005" stroke="#151515" stroke-width="1.05"/>
<ellipse cx="512" cy="287.3" rx="1.0" ry="1.7" fill="#e8e8e8" stroke="#666" stroke-width="0.8"/>
<line x1="394" y1="324.8" x2="395" y2="324.8" stroke="#808080" stroke-width="0.9" stroke-dasharray="0.9 0.9"/>
<line x1="394" y1="320.475" x2="394" y2="329.125" stroke="#a0a0a0" stroke-width="0.9"/>
<line x1="436.75" y1="324.8" x2="456.5" y2="324.8" stroke="#808080" stroke-width="0.9" stroke-dasharray="0.9 0.9"/>
<line x1="456.5" y1="320.475" x2="456.5" y2="329.125" stroke="#a0a0a0" stroke-width="0.9"/>
<rect x="395" y="316.15000000000003" width="41.75" height="17.3" fill="#9B58A5" stroke="#3a3a3a" stroke-width="0.6"/>
<line x1="406.6" y1="316.15000000000003" x2="406.6" y2="333.45000000000005" stroke="#151515" stroke-width="1.05"/>
<line x1="379.5" y1="362.6" x2="395.5" y2="362.6" stroke="#808080" stroke-width="0.9" stroke-dasharray="0.9 0.9"/>
<line x1="379.5" y1="355.55" x2="379.5" y2="369.65000000000003" stroke="#a0a0a0" stroke-width="0.9"/>
<line x1="408.75" y1="362.6" x2="410.5" y2="362.6" stroke="#808080" stroke-width="0.9" stroke-dasharray="0.9 0.9"/>
<line x1="410.5" y1="355.55" x2="410.5" y2="369.65000000000003" stroke="#a0a0a0" stroke-width="0.9"/>
<rect x="395.5" y="348.5" width="13.25" height="28.2" fill="#1B9E77" stroke="#3a3a3a" stroke-width="0.6"/>
<line x1="401.5" y1="348.5" x2="401.5" y2="376.7" stroke="#151515" stroke-width="1.05"/>
<ellipse cx="432.5" cy="362.6" rx="1.0" ry="1.7" fill="#e8e8e8" stroke="#666" stroke-width="0.8"/>
<ellipse cx="435.5" cy="362.6" rx="1.0" ry="1.7" fill="#e8e8e8" stroke="#666" stroke-width="0.8"/>
<path d="M391.75 274.2 V280.8" stroke="#2e2e2e" stroke-width="1.15" fill="none"/>
<path d="M389.9 275.85 L393.6 279.15 M389.9 279.15 L393.6 275.85" stroke="#2e2e2e" stroke-width="1.3" fill="none"/>
<line x1="87.0" y1="387.8" x2="87.0" y2="391.6" stroke="#a2a2a2" stroke-width="0.8"/>
<line x1="121.9" y1="387.8" x2="121.9" y2="391.6" stroke="#a2a2a2" stroke-width="0.8"/>
<line x1="156.8" y1="387.8" x2="156.8" y2="391.6" stroke="#a2a2a2" stroke-width="0.8"/>
<line x1="191.7" y1="387.8" x2="191.7" y2="391.6" stroke="#a2a2a2" stroke-width="0.8"/>
<text x="87.5" y="411" font-family="Liberation Serif" font-size="16.8" font-weight="normal" text-anchor="middle" fill="#111" stroke="#111" stroke-width="0.55" textLength="4.86" lengthAdjust="spacingAndGlyphs">7</text>
<text x="122.4" y="411" font-family="Liberation Serif" font-size="16.8" font-weight="normal" text-anchor="middle" fill="#111" stroke="#111" stroke-width="0.55" textLength="4.86" lengthAdjust="spacingAndGlyphs">8</text>
<text x="157.3" y="411" font-family="Liberation Serif" font-size="16.8" font-weight="normal" text-anchor="middle" fill="#111" stroke="#111" stroke-width="0.55" textLength="4.86" lengthAdjust="spacingAndGlyphs">9</text>
<text x="192.2" y="411" font-family="Liberation Serif" font-size="16.8" font-weight="normal" text-anchor="middle" fill="#111" stroke="#111" stroke-width="0.55" textLength="9.71" lengthAdjust="spacingAndGlyphs">10</text>
<line x1="240.4" y1="388.2" x2="240.4" y2="392.0" stroke="#a2a2a2" stroke-width="0.8"/>
<line x1="261.15" y1="388.2" x2="261.15" y2="392.0" stroke="#a2a2a2" stroke-width="0.8"/>
<line x1="281.9" y1="388.2" x2="281.9" y2="392.0" stroke="#a2a2a2" stroke-width="0.8"/>
<line x1="302.65" y1="388.2" x2="302.65" y2="392.0" stroke="#a2a2a2" stroke-width="0.8"/>
<line x1="323.4" y1="388.2" x2="323.4" y2="392.0" stroke="#a2a2a2" stroke-width="0.8"/>
<line x1="344.15" y1="388.2" x2="344.15" y2="392.0" stroke="#a2a2a2" stroke-width="0.8"/>
<line x1="364.9" y1="388.2" x2="364.9" y2="392.0" stroke="#a2a2a2" stroke-width="0.8"/>
<text x="240.9" y="411" font-family="Liberation Serif" font-size="16.8" font-weight="normal" text-anchor="middle" fill="#111" stroke="#111" stroke-width="0.55" textLength="4.86" lengthAdjust="spacingAndGlyphs">7</text>
<text x="261.65" y="411" font-family="Liberation Serif" font-size="16.8" font-weight="normal" text-anchor="middle" fill="#111" stroke="#111" stroke-width="0.55" textLength="4.86" lengthAdjust="spacingAndGlyphs">8</text>
<text x="282.4" y="411" font-family="Liberation Serif" font-size="16.8" font-weight="normal" text-anchor="middle" fill="#111" stroke="#111" stroke-width="0.55" textLength="4.86" lengthAdjust="spacingAndGlyphs">9</text>
<text x="303.15" y="411" font-family="Liberation Serif" font-size="16.8" font-weight="normal" text-anchor="middle" fill="#111" stroke="#111" stroke-width="0.55" textLength="9.71" lengthAdjust="spacingAndGlyphs">10</text>
<text x="323.9" y="411" font-family="Liberation Serif" font-size="16.8" font-weight="normal" text-anchor="middle" fill="#111" stroke="#111" stroke-width="0.55" textLength="9.35" lengthAdjust="spacingAndGlyphs">11</text>
<text x="344.65" y="411" font-family="Liberation Serif" font-size="16.8" font-weight="normal" text-anchor="middle" fill="#111" stroke="#111" stroke-width="0.55" textLength="9.71" lengthAdjust="spacingAndGlyphs">12</text>
<text x="365.4" y="411" font-family="Liberation Serif" font-size="16.8" font-weight="normal" text-anchor="middle" fill="#111" stroke="#111" stroke-width="0.55" textLength="9.71" lengthAdjust="spacingAndGlyphs">13</text>
<line x1="390.9" y1="386.6" x2="390.9" y2="390.40000000000003" stroke="#a2a2a2" stroke-width="0.8"/>
<line x1="410.0" y1="386.6" x2="410.0" y2="390.40000000000003" stroke="#a2a2a2" stroke-width="0.8"/>
<line x1="429.09999999999997" y1="386.6" x2="429.09999999999997" y2="390.40000000000003" stroke="#a2a2a2" stroke-width="0.8"/>
<line x1="448.2" y1="386.6" x2="448.2" y2="390.40000000000003" stroke="#a2a2a2" stroke-width="0.8"/>
<line x1="467.29999999999995" y1="386.6" x2="467.29999999999995" y2="390.40000000000003" stroke="#a2a2a2" stroke-width="0.8"/>
<line x1="486.4" y1="386.6" x2="486.4" y2="390.40000000000003" stroke="#a2a2a2" stroke-width="0.8"/>
<line x1="505.5" y1="386.6" x2="505.5" y2="390.40000000000003" stroke="#a2a2a2" stroke-width="0.8"/>
<text x="391.3" y="411" font-family="Liberation Serif" font-size="16.8" font-weight="normal" text-anchor="middle" fill="#111" stroke="#111" stroke-width="0.55" textLength="12.14" lengthAdjust="spacingAndGlyphs">5.2</text>
<text x="410.4" y="411" font-family="Liberation Serif" font-size="16.8" font-weight="normal" text-anchor="middle" fill="#111" stroke="#111" stroke-width="0.55" textLength="12.14" lengthAdjust="spacingAndGlyphs">5.4</text>
<text x="429.5" y="411" font-family="Liberation Serif" font-size="16.8" font-weight="normal" text-anchor="middle" fill="#111" stroke="#111" stroke-width="0.55" textLength="12.14" lengthAdjust="spacingAndGlyphs">5.6</text>
<text x="448.6" y="411" font-family="Liberation Serif" font-size="16.8" font-weight="normal" text-anchor="middle" fill="#111" stroke="#111" stroke-width="0.55" textLength="12.14" lengthAdjust="spacingAndGlyphs">5.8</text>
<text x="467.7" y="411" font-family="Liberation Serif" font-size="16.8" font-weight="normal" text-anchor="middle" fill="#111" stroke="#111" stroke-width="0.55" textLength="12.14" lengthAdjust="spacingAndGlyphs">6.0</text>
<text x="486.8" y="411" font-family="Liberation Serif" font-size="16.8" font-weight="normal" text-anchor="middle" fill="#111" stroke="#111" stroke-width="0.55" textLength="12.14" lengthAdjust="spacingAndGlyphs">6.2</text>
<text x="505.9" y="411" font-family="Liberation Serif" font-size="16.8" font-weight="normal" text-anchor="middle" fill="#111" stroke="#111" stroke-width="0.55" textLength="12.14" lengthAdjust="spacingAndGlyphs">6.4</text>
<rect x="72.5" y="431.7" width="146.2" height="152.50000000000006" fill="#fff" stroke="#a2a2a2" stroke-width="1.25"/>
<rect x="224.5" y="430.7" width="144.10000000000002" height="154.09999999999997" fill="#fff" stroke="#a2a2a2" stroke-width="1.25"/>
<rect x="373.5" y="429.9" width="144.89999999999998" height="156.5" fill="#fff" stroke="#a2a2a2" stroke-width="1.25"/>
<line x1="70.0" y1="472.3" x2="72.5" y2="472.3" stroke="#a2a2a2" stroke-width="0.8"/>
<line x1="70.0" y1="543.5" x2="72.5" y2="543.5" stroke="#a2a2a2" stroke-width="0.8"/>
<line x1="222.0" y1="472.3" x2="224.5" y2="472.3" stroke="#a2a2a2" stroke-width="0.8"/>
<line x1="222.0" y1="543.5" x2="224.5" y2="543.5" stroke="#a2a2a2" stroke-width="0.8"/>
<line x1="371.0" y1="472.3" x2="373.5" y2="472.3" stroke="#a2a2a2" stroke-width="0.8"/>
<line x1="371.0" y1="543.5" x2="373.5" y2="543.5" stroke="#a2a2a2" stroke-width="0.8"/>
<text x="68.2" y="477.6" font-family="Liberation Serif" font-size="16.8" text-anchor="end" stroke="#111" stroke-width="0.55" fill="#111" textLength="51" lengthAdjust="spacingAndGlyphs">CD8<tspan font-size="10.6" dy="-6.2">+ve</tspan><tspan dy="6.2"> cells</tspan></text>
<text x="68.2" y="548.4" font-family="Liberation Serif" font-size="16.8" text-anchor="end" stroke="#111" stroke-width="0.55" fill="#111" textLength="51" lengthAdjust="spacingAndGlyphs">CD4<tspan font-size="10.6" dy="-6.2">+ve</tspan><tspan dy="6.2"> cells</tspan></text>
<line x1="100" y1="472.3" x2="107.75" y2="472.3" stroke="#808080" stroke-width="0.9" stroke-dasharray="0.9 0.9"/>
<line x1="100" y1="458.175" x2="100" y2="486.425" stroke="#a0a0a0" stroke-width="0.9"/>
<line x1="142" y1="472.3" x2="155.5" y2="472.3" stroke="#808080" stroke-width="0.9" stroke-dasharray="0.9 0.9"/>
<line x1="155.5" y1="458.175" x2="155.5" y2="486.425" stroke="#a0a0a0" stroke-width="0.9"/>
<rect x="107.75" y="444.05" width="34.25" height="56.5" fill="#666666" stroke="#3a3a3a" stroke-width="0.6"/>
<line x1="119.75" y1="444.05" x2="119.75" y2="500.55" stroke="#151515" stroke-width="1.05"/>
<ellipse cx="213.75" cy="472.3" rx="1.0" ry="1.7" fill="#e8e8e8" stroke="#666" stroke-width="0.8"/>
<line x1="78" y1="543.5" x2="118.1" y2="543.5" stroke="#808080" stroke-width="0.9" stroke-dasharray="0.9 0.9"/>
<line x1="78" y1="530.25" x2="78" y2="556.75" stroke="#a0a0a0" stroke-width="0.9"/>
<line x1="158.25" y1="543.5" x2="174.5" y2="543.5" stroke="#808080" stroke-width="0.9" stroke-dasharray="0.9 0.9"/>
<line x1="174.5" y1="530.25" x2="174.5" y2="556.75" stroke="#a0a0a0" stroke-width="0.9"/>
<rect x="118.1" y="517.0" width="40.150000000000006" height="53" fill="#1B9E77" stroke="#3a3a3a" stroke-width="0.6"/>
<line x1="153.25" y1="517.0" x2="153.25" y2="570.0" stroke="#151515" stroke-width="1.05"/>
<line x1="263.25" y1="472.3" x2="292.5" y2="472.3" stroke="#808080" stroke-width="0.9" stroke-dasharray="0.9 0.9"/>
<line x1="263.25" y1="458.175" x2="263.25" y2="486.425" stroke="#a0a0a0" stroke-width="0.9"/>
<line x1="312.75" y1="472.3" x2="338.25" y2="472.3" stroke="#8e8e8e" stroke-width="0.7"/>
<line x1="338.25" y1="458.175" x2="338.25" y2="486.425" stroke="#a0a0a0" stroke-width="0.9"/>
<rect x="292.5" y="444.05" width="20.25" height="56.5" fill="#666666" stroke="#3a3a3a" stroke-width="0.6"/>
<line x1="295.75" y1="444.05" x2="295.75" y2="500.55" stroke="#151515" stroke-width="1.05"/>
<ellipse cx="229.5" cy="472.3" rx="1.0" ry="1.7" fill="#e8e8e8" stroke="#666" stroke-width="0.8"/>
<line x1="304.4" y1="543.5" x2="330.1" y2="543.5" stroke="#8e8e8e" stroke-width="0.7"/>
<line x1="304.4" y1="530.25" x2="304.4" y2="556.75" stroke="#a0a0a0" stroke-width="0.9"/>
<line x1="354" y1="543.5" x2="363.5" y2="543.5" stroke="#8e8e8e" stroke-width="0.7"/>
<line x1="363.5" y1="530.25" x2="363.5" y2="556.75" stroke="#a0a0a0" stroke-width="0.9"/>
<rect x="330.1" y="517.0" width="23.899999999999977" height="53" fill="#1B9E77" stroke="#3a3a3a" stroke-width="0.6"/>
<line x1="341.25" y1="517.0" x2="341.25" y2="570.0" stroke="#151515" stroke-width="1.05"/>
<path d="M293.2 524.7 V531.3" stroke="#2e2e2e" stroke-width="1.15" fill="none"/>
<path d="M291.34999999999997 526.35 L295.05 529.65 M291.34999999999997 529.65 L295.05 526.35" stroke="#2e2e2e" stroke-width="1.3" fill="none"/>
<path d="M298.7 524.7 V531.3" stroke="#2e2e2e" stroke-width="1.15" fill="none"/>
<path d="M296.84999999999997 526.35 L300.55 529.65 M296.84999999999997 529.65 L300.55 526.35" stroke="#2e2e2e" stroke-width="1.3" fill="none"/>
<line x1="379" y1="472" x2="412.5" y2="472" stroke="#808080" stroke-width="0.9" stroke-dasharray="0.9 0.9"/>
<line x1="379" y1="457.625" x2="379" y2="486.375" stroke="#a0a0a0" stroke-width="0.9"/>
<line x1="464" y1="472" x2="513.25" y2="472" stroke="#8e8e8e" stroke-width="0.7"/>
<line x1="513.25" y1="457.625" x2="513.25" y2="486.375" stroke="#a0a0a0" stroke-width="0.9"/>
<rect x="412.5" y="443.25" width="51.5" height="57.5" fill="#666666" stroke="#3a3a3a" stroke-width="0.6"/>
<line x1="446.25" y1="443.25" x2="446.25" y2="500.75" stroke="#151515" stroke-width="1.05"/>
<line x1="401.75" y1="544.5" x2="419" y2="544.5" stroke="#808080" stroke-width="0.9" stroke-dasharray="0.9 0.9"/>
<line x1="401.75" y1="531.0" x2="401.75" y2="558.0" stroke="#a0a0a0" stroke-width="0.9"/>
<line x1="450.75" y1="544.5" x2="491" y2="544.5" stroke="#808080" stroke-width="0.9" stroke-dasharray="0.9 0.9"/>
<line x1="491" y1="531.0" x2="491" y2="558.0" stroke="#a0a0a0" stroke-width="0.9"/>
<rect x="419" y="517.5" width="31.75" height="54" fill="#1B9E77" stroke="#3a3a3a" stroke-width="0.6"/>
<line x1="425.25" y1="517.5" x2="425.25" y2="571.5" stroke="#151515" stroke-width="1.05"/>
<line x1="77.3" y1="584.2" x2="77.3" y2="588.0" stroke="#a2a2a2" stroke-width="0.8"/>
<line x1="103.9" y1="584.2" x2="103.9" y2="588.0" stroke="#a2a2a2" stroke-width="0.8"/>
<line x1="130.5" y1="584.2" x2="130.5" y2="588.0" stroke="#a2a2a2" stroke-width="0.8"/>
<line x1="157.10000000000002" y1="584.2" x2="157.10000000000002" y2="588.0" stroke="#a2a2a2" stroke-width="0.8"/>
<line x1="183.7" y1="584.2" x2="183.7" y2="588.0" stroke="#a2a2a2" stroke-width="0.8"/>
<line x1="210.3" y1="584.2" x2="210.3" y2="588.0" stroke="#a2a2a2" stroke-width="0.8"/>
<text x="77.3" y="606.75" font-family="Liberation Serif" font-size="16.8" font-weight="normal" text-anchor="middle" fill="#111" stroke="#111" stroke-width="0.55" textLength="4.86" lengthAdjust="spacingAndGlyphs">4</text>
<text x="103.9" y="606.75" font-family="Liberation Serif" font-size="16.8" font-weight="normal" text-anchor="middle" fill="#111" stroke="#111" stroke-width="0.55" textLength="4.86" lengthAdjust="spacingAndGlyphs">5</text>
<text x="130.5" y="606.75" font-family="Liberation Serif" font-size="16.8" font-weight="normal" text-anchor="middle" fill="#111" stroke="#111" stroke-width="0.55" textLength="4.86" lengthAdjust="spacingAndGlyphs">6</text>
<text x="157.1" y="606.75" font-family="Liberation Serif" font-size="16.8" font-weight="normal" text-anchor="middle" fill="#111" stroke="#111" stroke-width="0.55" textLength="4.86" lengthAdjust="spacingAndGlyphs">7</text>
<text x="183.7" y="606.75" font-family="Liberation Serif" font-size="16.8" font-weight="normal" text-anchor="middle" fill="#111" stroke="#111" stroke-width="0.55" textLength="4.86" lengthAdjust="spacingAndGlyphs">8</text>
<text x="210.3" y="606.75" font-family="Liberation Serif" font-size="16.8" font-weight="normal" text-anchor="middle" fill="#111" stroke="#111" stroke-width="0.55" textLength="4.86" lengthAdjust="spacingAndGlyphs">9</text>
<line x1="227.3" y1="584.8" x2="227.3" y2="588.5999999999999" stroke="#a2a2a2" stroke-width="0.8"/>
<line x1="252.95000000000002" y1="584.8" x2="252.95000000000002" y2="588.5999999999999" stroke="#a2a2a2" stroke-width="0.8"/>
<line x1="278.6" y1="584.8" x2="278.6" y2="588.5999999999999" stroke="#a2a2a2" stroke-width="0.8"/>
<line x1="304.25" y1="584.8" x2="304.25" y2="588.5999999999999" stroke="#a2a2a2" stroke-width="0.8"/>
<line x1="329.9" y1="584.8" x2="329.9" y2="588.5999999999999" stroke="#a2a2a2" stroke-width="0.8"/>
<line x1="355.55" y1="584.8" x2="355.55" y2="588.5999999999999" stroke="#a2a2a2" stroke-width="0.8"/>
<text x="228.0" y="606.75" font-family="Liberation Serif" font-size="16.8" font-weight="normal" text-anchor="middle" fill="#111" stroke="#111" stroke-width="0.55" textLength="16.99" lengthAdjust="spacingAndGlyphs">10.5</text>
<text x="253.65" y="606.75" font-family="Liberation Serif" font-size="16.8" font-weight="normal" text-anchor="middle" fill="#111" stroke="#111" stroke-width="0.55" textLength="16.63" lengthAdjust="spacingAndGlyphs">11.0</text>
<text x="279.3" y="606.75" font-family="Liberation Serif" font-size="16.8" font-weight="normal" text-anchor="middle" fill="#111" stroke="#111" stroke-width="0.55" textLength="16.63" lengthAdjust="spacingAndGlyphs">11.5</text>
<text x="304.95" y="606.75" font-family="Liberation Serif" font-size="16.8" font-weight="normal" text-anchor="middle" fill="#111" stroke="#111" stroke-width="0.55" textLength="16.99" lengthAdjust="spacingAndGlyphs">12.0</text>
<text x="330.6" y="606.75" font-family="Liberation Serif" font-size="16.8" font-weight="normal" text-anchor="middle" fill="#111" stroke="#111" stroke-width="0.55" textLength="16.99" lengthAdjust="spacingAndGlyphs">12.5</text>
<text x="356.25" y="606.75" font-family="Liberation Serif" font-size="16.8" font-weight="normal" text-anchor="middle" fill="#111" stroke="#111" stroke-width="0.55" textLength="16.99" lengthAdjust="spacingAndGlyphs">13.0</text>
<line x1="395.9" y1="586.4" x2="395.9" y2="590.1999999999999" stroke="#a2a2a2" stroke-width="0.8"/>
<line x1="420.45" y1="586.4" x2="420.45" y2="590.1999999999999" stroke="#a2a2a2" stroke-width="0.8"/>
<line x1="445.0" y1="586.4" x2="445.0" y2="590.1999999999999" stroke="#a2a2a2" stroke-width="0.8"/>
<line x1="469.54999999999995" y1="586.4" x2="469.54999999999995" y2="590.1999999999999" stroke="#a2a2a2" stroke-width="0.8"/>
<line x1="494.09999999999997" y1="586.4" x2="494.09999999999997" y2="590.1999999999999" stroke="#a2a2a2" stroke-width="0.8"/>
<text x="396.7" y="606.75" font-family="Liberation Serif" font-size="16.8" font-weight="normal" text-anchor="middle" fill="#111" stroke="#111" stroke-width="0.55" textLength="12.14" lengthAdjust="spacingAndGlyphs">5.2</text>
<text x="421.25" y="606.75" font-family="Liberation Serif" font-size="16.8" font-weight="normal" text-anchor="middle" fill="#111" stroke="#111" stroke-width="0.55" textLength="12.14" lengthAdjust="spacingAndGlyphs">5.4</text>
<text x="445.8" y="606.75" font-family="Liberation Serif" font-size="16.8" font-weight="normal" text-anchor="middle" fill="#111" stroke="#111" stroke-width="0.55" textLength="12.14" lengthAdjust="spacingAndGlyphs">5.6</text>
<text x="470.35" y="606.75" font-family="Liberation Serif" font-size="16.8" font-weight="normal" text-anchor="middle" fill="#111" stroke="#111" stroke-width="0.55" textLength="12.14" lengthAdjust="spacingAndGlyphs">5.8</text>
<text x="494.9" y="606.75" font-family="Liberation Serif" font-size="16.8" font-weight="normal" text-anchor="middle" fill="#111" stroke="#111" stroke-width="0.55" textLength="12.14" lengthAdjust="spacingAndGlyphs">6.0</text>
<text x="74.7" y="637.1" font-family="Liberation Serif" font-size="16.8" font-weight="normal" text-anchor="start" fill="#111" stroke="#111" stroke-width="0.55" textLength="18.5" lengthAdjust="spacingAndGlyphs">Gene</text>
<text x="98.3" y="637.1" font-family="Liberation Serif" font-size="16.8" font-weight="normal" text-anchor="start" fill="#111" stroke="#111" stroke-width="0.55" textLength="42.7" lengthAdjust="spacingAndGlyphs">expression</text>
<text x="146.5" y="637.1" font-family="Liberation Serif" font-size="16.8" font-weight="normal" text-anchor="start" fill="#111" stroke="#111" stroke-width="0.55" textLength="32.2" lengthAdjust="spacingAndGlyphs">profiling</text>
<text x="184.2" y="637.1" font-family="Liberation Serif" font-size="16.8" font-weight="normal" text-anchor="start" fill="#111" stroke="#111" stroke-width="0.55" textLength="9.0" lengthAdjust="spacingAndGlyphs">on</text>
<text x="197.7" y="637.1" font-family="Liberation Serif" font-size="16.8" font-weight="normal" text-anchor="start" fill="#111" stroke="#111" stroke-width="0.55" textLength="41.2" lengthAdjust="spacingAndGlyphs">microarray</text>
<line x1="245.8" y1="633.9" x2="515" y2="633.9" stroke="#111" stroke-width="1.4"/>
<path d="M519.2 633.9 L513.6 630.3 L513.6 637.5 Z" fill="#111"/>
</svg>
</body></html>
